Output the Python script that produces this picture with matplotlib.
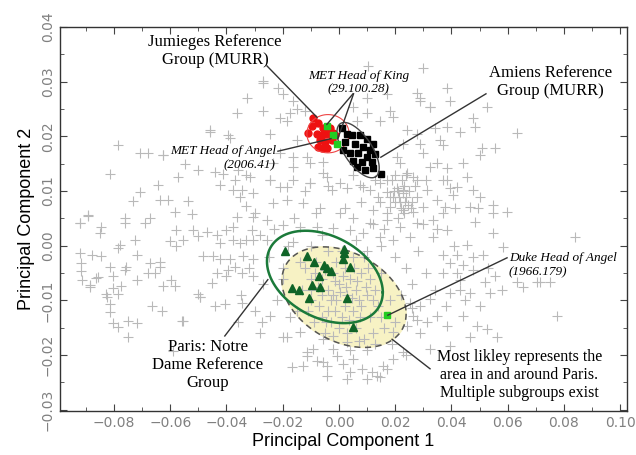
import numpy as np
import matplotlib
matplotlib.use("Agg")
import matplotlib.pyplot as plt
from matplotlib.ticker import MultipleLocator

# --- datos (PC1, PC2) ---

# muestras de referencia no asignadas (cruces grises)
otras = [
    (-0.0786, 0.0184), (-0.0679, 0.0170), (-0.0625, 0.0166), (-0.0815, 0.0132), (-0.0459, 0.0208),
    (-0.0394, 0.0202), (-0.0548, 0.0150), (-0.0501, 0.0138), (-0.0572, 0.0126), (-0.0441, 0.0135),
    (-0.0412, 0.0132), (-0.0643, 0.0111), (-0.0708, 0.0099), (-0.0732, 0.0081), (-0.0637, 0.0084),
    (-0.0608, 0.0084), (-0.0536, 0.0081), (-0.0584, 0.0062), (-0.0524, 0.0059), (-0.0673, 0.0050),
    (-0.0691, 0.0041), (-0.0762, 0.0050), (-0.0762, 0.0041), (-0.0892, 0.0056), (-0.0920, 0.0041),
    (-0.0845, 0.0035), (-0.0851, 0.0023), (-0.0726, 0.0011), (-0.0780, 0.0002), (-0.0786, -0.0004),
    (-0.0880, -0.0016), (-0.0845, -0.0019), (-0.0720, -0.0016), (-0.0916, -0.0032), (-0.0916, -0.0047),
    (-0.0815, -0.0038), (-0.0756, -0.0038), (-0.0762, -0.0044), (-0.0673, -0.0032), (-0.0637, -0.0029),
    (-0.0637, -0.0038), (-0.0655, -0.0050), (-0.0679, -0.0050), (-0.0863, -0.0059), (-0.0886, -0.0071),
    (-0.0803, -0.0056), (-0.0803, -0.0077), (-0.0774, -0.0074), (-0.0720, -0.0062), (-0.0596, -0.0062),
    (-0.0584, -0.0074), (-0.0625, -0.0074), (-0.0827, -0.0089), (-0.0786, -0.0089), (-0.0501, -0.0089),
    (-0.0578, -0.0001), (-0.0602, 0.0008), (-0.0554, 0.0011), (-0.0501, 0.0017), (-0.0471, 0.0026),
    (-0.0435, 0.0020), (-0.0424, 0.0005), (-0.0400, 0.0029), (-0.0376, 0.0035), (-0.0578, 0.0029),
    (-0.0519, 0.0029), (-0.0483, -0.0019), (-0.0447, -0.0019), (-0.0424, -0.0025), (-0.0388, -0.0025),
    (-0.0370, -0.0038), (-0.0341, -0.0019), (-0.0346, -0.0050), (-0.0305, -0.0025), (-0.0394, -0.0044),
    (-0.0435, -0.0050), (-0.0453, -0.0068), (-0.0400, -0.0056), (-0.0305, -0.0056), (-0.0352, 0.0090),
    (-0.0329, 0.0072), (-0.0305, 0.0053), (-0.0364, 0.0053), (-0.0376, 0.0011), (-0.0352, 0.0005),
    (-0.0305, 0.0011), (-0.0311, 0.0029), (-0.0424, 0.0111), (-0.0376, 0.0102), (-0.0346, 0.0102),
    (-0.0305, 0.0096), (-0.0370, 0.0120), (-0.0358, 0.0138), (-0.0329, 0.0129),
    (-0.0826, -0.0093), (-0.0815, -0.0107), (-0.0815, -0.0122), (-0.0804, -0.0142), (-0.0786, -0.0149),
    (-0.0751, -0.0138), (-0.0719, -0.0142), (-0.0751, -0.0166), (-0.0665, -0.0111), (-0.0630, -0.0120),
    (-0.0559, -0.0138), (-0.0495, -0.0093), (-0.0591, -0.0193), (-0.0922, -0.0013), (-0.0915, -0.0062),
    (-0.0886, -0.0075), (-0.0858, -0.0058), (-0.0922, 0.0042), (-0.0893, 0.0055), (-0.0708, 0.0169),
    (-0.0626, 0.0166),
    (-0.0270, 0.0302), (-0.0217, 0.0289), (-0.0199, 0.0278), (-0.0164, 0.0265), (-0.0149, 0.0251),
    (-0.0121, 0.0247), (-0.0174, 0.0242), (-0.0210, 0.0233), (-0.0270, 0.0247), (0.0103, 0.0329),
    (0.0299, 0.0326), (0.0100, 0.0271), (0.0171, 0.0278), (0.0050, 0.0253), (0.0100, 0.0242),
    (0.0064, 0.0229), (0.0146, 0.0229), (0.0192, 0.0235), (0.0278, 0.0280), (0.0288, 0.0271),
    (0.0324, 0.0253), (0.0342, 0.0216), (0.0242, 0.0211), (0.0384, 0.0289),
    (-0.0327, 0.0271), (-0.0270, 0.0298), (-0.0363, 0.0242), (-0.0459, 0.0211), (-0.0388, 0.0198),
    (-0.0246, 0.0205), (-0.0185, 0.0229), (-0.0149, 0.0193), (-0.0210, 0.0169), (-0.0114, 0.0162),
    (-0.0164, 0.0144), (-0.0057, 0.0133), (-0.0103, 0.0115), (-0.0185, 0.0107), (-0.0246, 0.0120),
    (-0.0317, 0.0126), (0.0004, 0.0115), (0.0085, 0.0107), (0.0171, 0.0120), (0.0206, 0.0162),
    (0.0228, 0.0187), (0.0278, 0.0205), (0.0299, 0.0169), (0.0324, 0.0144), (0.0263, 0.0126),
    (0.0228, 0.0102), (0.0359, 0.0193), (0.0395, 0.0265), (0.0181, 0.0247), (0.0288, 0.0265),
    (0.0324, 0.0253),
    (0.0384, 0.0217), (0.0431, 0.0208), (0.0477, 0.0233), (0.0484, 0.0217), (0.0527, 0.0253),
    (0.0633, 0.0206), (0.0370, 0.0184), (0.0509, 0.0178), (0.0555, 0.0178), (0.0502, 0.0166),
    (0.0441, 0.0151), (0.0384, 0.0142), (0.0456, 0.0126), (0.0370, 0.0120), (0.0395, 0.0106),
    (0.0420, 0.0107), (0.0477, 0.0102), (0.0502, 0.0089), (0.0406, 0.0093), (0.0377, 0.0071),
    (0.0413, 0.0069), (0.0466, 0.0071), (0.0495, 0.0069), (0.0548, 0.0075), (0.0598, 0.0062),
    (0.0548, 0.0060), (0.0484, 0.0044), (0.0548, 0.0024), (0.0456, 0.0002), (0.0840, 0.0016),
    (0.0584, -0.0002), (0.0370, -0.0016), (0.0420, -0.0016), (0.0477, -0.0020), (0.0512, -0.0016),
    (0.0395, -0.0031), (0.0441, -0.0035), (0.0370, -0.0049), (0.0420, -0.0049), (0.0477, -0.0044),
    (0.0520, -0.0066), (0.0555, -0.0056), (0.0633, -0.0066), (0.0705, -0.0067), (0.0751, -0.0066),
    (0.0431, -0.0080), (0.0466, -0.0086), (0.0537, -0.0086),
    (-0.0246, 0.0120), (-0.0210, 0.0107), (-0.0164, 0.0120), (-0.0103, 0.0115), (-0.0043, 0.0126),
    (-0.0025, 0.0102), (0.0028, 0.0106), (0.0075, 0.0111), (0.0110, 0.0102), (0.0146, 0.0115),
    (0.0171, 0.0098), (0.0206, 0.0106), (0.0228, 0.0096), (0.0192, 0.0089), (0.0217, 0.0080),
    (0.0246, 0.0075), (0.0228, 0.0066), (0.0263, 0.0062), (0.0181, 0.0071), (0.0146, 0.0080),
    (0.0121, 0.0066), (0.0278, 0.0089), (0.0313, 0.0102), (0.0299, 0.0071), (0.0349, 0.0084),
    (0.0370, 0.0060), (0.0335, 0.0047), (0.0278, 0.0042), (0.0217, 0.0035), (0.0171, 0.0047),
    (0.0110, 0.0042), (0.0050, 0.0051), (0.0004, 0.0060), (-0.0068, 0.0069), (-0.0128, 0.0078),
    (-0.0185, 0.0084), (-0.0235, 0.0078), (-0.0256, 0.0047), (-0.0199, 0.0038), (-0.0139, 0.0035),
    (-0.0078, 0.0035), (-0.0021, 0.0033), (0.0039, 0.0029), (0.0085, 0.0024), (0.0146, 0.0016),
    (0.0192, 0.0011), (0.0253, 0.0016), (0.0335, 0.0016), (0.0384, 0.0029), (-0.0256, 0.0011),
    (-0.0164, 0.0007), (-0.0057, 0.0153), (-0.0103, 0.0151), (-0.0235, 0.0151), (-0.0164, 0.0162),
    (0.0217, 0.0151), (0.0242, 0.0133), (0.0278, 0.0120), (0.0349, 0.0151), (0.0384, 0.0120),
    (0.0288, 0.0187),
    (-0.0300, 0.0060), (-0.0280, 0.0020), (-0.0250, -0.0020), (-0.0320, -0.0040), (-0.0270, -0.0070),
    (-0.0220, -0.0100), (-0.0300, -0.0120), (-0.0350, -0.0090), (-0.0200, -0.0040), (-0.0180, 0.0000),
    (-0.0230, 0.0030), (-0.0330, 0.0010), (-0.0360, -0.0140), (-0.0280, -0.0160),
    (-0.0495, -0.0093), (-0.0441, -0.0111), (-0.0406, -0.0107), (-0.0345, -0.0104), (-0.0555, -0.0138),
    (-0.0274, -0.0140), (-0.0246, -0.0129), (-0.0174, -0.0131), (-0.0199, -0.0166), (-0.0139, -0.0158),
    (-0.0114, -0.0202), (-0.0078, -0.0211), (-0.0128, -0.0220), (-0.0167, -0.0222), (-0.0043, -0.0220),
    (-0.0007, -0.0202), (0.0014, -0.0216), (0.0050, -0.0207), (0.0082, -0.0225), (0.0117, -0.0231),
    (0.0146, -0.0240), (0.0100, -0.0244), (0.0171, -0.0225), (-0.0043, -0.0238), (0.0028, -0.0244),
    (-0.0093, -0.0189), (-0.0021, -0.0189), (0.0028, -0.0176), (-0.0057, -0.0171), (0.0192, -0.0158),
    (0.0242, -0.0147), (0.0263, -0.0129), (0.0288, -0.0111), (0.0313, -0.0140), (0.0253, -0.0104),
    (0.0260, -0.0113), (0.0324, -0.0098), (0.0278, -0.0135), (0.0349, -0.0129), (0.0384, -0.0147),
    (0.0441, -0.0129), (0.0491, -0.0147), (0.0527, -0.0153), (0.0562, -0.0166), (0.0466, -0.0166),
    (0.0395, -0.0086), (0.0431, -0.0062), (0.0776, -0.0129), (0.0655, -0.0075), (0.0715, -0.0067),
    (-0.0185, -0.0167), (-0.0114, -0.0195), (-0.0057, -0.0213), (0.0039, -0.0231), (0.0135, -0.0238),
    (0.0157, -0.0220), (0.0192, -0.0207), (0.0228, -0.0195), (0.0324, -0.0189), (0.0395, -0.0184),
    (-0.0120, -0.0040), (-0.0100, -0.0060), (-0.0080, -0.0030), (-0.0060, -0.0060), (-0.0040, -0.0080),
    (-0.0020, -0.0050), (0.0000, -0.0070), (0.0020, -0.0040), (0.0040, -0.0060), (0.0060, -0.0080),
    (0.0080, -0.0050), (0.0100, -0.0090), (-0.0100, -0.0100), (-0.0070, -0.0110), (-0.0040, -0.0120),
    (-0.0010, -0.0100), (0.0020, -0.0110), (0.0050, -0.0120), (0.0080, -0.0110), (0.0110, -0.0130),
    (0.0140, -0.0110), (0.0160, -0.0150), (-0.0030, -0.0140), (0.0000, -0.0150), (0.0030, -0.0160),
    (0.0060, -0.0150), (0.0090, -0.0170), (0.0120, -0.0160), (-0.0130, -0.0080), (-0.0150, -0.0120),
    (-0.0010, -0.0030), (0.0050, -0.0020), (0.0030, -0.0090), (-0.0020, -0.0090), (0.0070, -0.0100),
    (-0.0060, -0.0090), (0.0010, -0.0130), (0.0130, -0.0080), (0.0180, -0.0100), (0.0150, -0.0050),
    (-0.0090, -0.0140), (0.0040, -0.0190), (0.0100, -0.0190), (-0.0050, -0.0160), (0.0010, -0.0010),
    (-0.0040, -0.0010), (0.0090, -0.0020), (0.0110, -0.0060), (0.0200, -0.0140), (0.0190, -0.0180),
    (-0.0085, -0.0050), (-0.0050, -0.0045), (-0.0015, -0.0065), (0.0025, -0.0075), (0.0065, -0.0065),
    (-0.0075, -0.0075), (-0.0030, -0.0100), (0.0005, -0.0085), (0.0045, -0.0095), (0.0095, -0.0075),
    (-0.0110, -0.0120), (-0.0060, -0.0130), (-0.0015, -0.0120), (0.0035, -0.0135), (0.0075, -0.0130),
    (0.0120, -0.0100), (0.0150, -0.0130), (-0.0020, -0.0165), (0.0070, -0.0175), (0.0130, -0.0180),
    (-0.0100, -0.0080), (0.0015, -0.0055), (0.0105, -0.0040), (-0.0045, -0.0140), (0.0055, -0.0040),
    (0.0190, 0.0120), (0.0210, 0.0100), (0.0230, 0.0110), (0.0200, 0.0080), (0.0220, 0.0070),
    (0.0240, 0.0090), (0.0260, 0.0080), (0.0250, 0.0100), (0.0180, 0.0090), (0.0230, 0.0060),
    (0.0210, 0.0050), (0.0270, 0.0110), (0.0200, 0.0130), (0.0240, 0.0130), (0.0170, 0.0060),
    (0.0215, 0.0090), (0.0235, 0.0080), (0.0195, 0.0100), (0.0255, 0.0070), (0.0225, 0.0120),
    (-0.0100, 0.0000), (-0.0060, 0.0020), (0.0060, 0.0010), (0.0100, -0.0010), (0.0150, 0.0000),
    (0.0200, -0.0020), (0.0240, -0.0040), (0.0280, -0.0010), (0.0310, -0.0050), (0.0340, -0.0080),
    (0.0260, -0.0070), (0.0220, -0.0090), (0.0300, 0.0040), (0.0120, 0.0040), (0.0160, 0.0030),
    (-0.0140, -0.0030), (-0.0200, -0.0060), (-0.0160, 0.0050), (-0.0080, 0.0060), (0.0020, 0.0070),
    (0.0080, 0.0080), (0.0140, 0.0090), (-0.0120, 0.0100), (-0.0040, 0.0110), (0.0050, 0.0130),
    (0.0130, 0.0120), (0.0310, 0.0120), (0.0350, 0.0030), (0.0410, 0.0000), (0.0380, -0.0110),
    (0.0290, -0.0160), (0.0240, -0.0200), (0.0450, -0.0100), (0.0500, -0.0110), (0.0530, -0.0040),
    (0.0580, -0.0080),
]

# grupo de referencia Jumieges (MURR)
jumieges_x = [-0.0093, -0.0075, -0.0096, -0.0110, -0.0078, -0.0060, -0.0043, -0.0068, -0.0050,
              -0.0025, -0.0060, -0.0075, -0.0043, -0.0032, -0.0021, -0.0014, -0.0057]
jumieges_y = [0.0233, 0.0225, 0.0220, 0.0207, 0.0205, 0.0202, 0.0205, 0.0193, 0.0189,
              0.0193, 0.0178, 0.0180, 0.0178, 0.0215, 0.0207, 0.0202, 0.0215]

# grupo de referencia Amiens (MURR)
amiens_x = [0.0011, 0.0028, 0.0046, 0.0075, 0.0100, 0.0121, 0.0021, 0.0057, 0.0085, 0.0110, 0.0128,
            0.0014, 0.0039, 0.0068, 0.0100, 0.0050, 0.0082, 0.0117, 0.0064, 0.0093, 0.0121, 0.0149]
amiens_y = [0.0216, 0.0205, 0.0202, 0.0202, 0.0196, 0.0187, 0.0189, 0.0187, 0.0180, 0.0175, 0.0167,
            0.0175, 0.0169, 0.0169, 0.0162, 0.0156, 0.0153, 0.0153, 0.0145, 0.0138, 0.0142, 0.0131]

# grupo de referencia Paris: Notre Dame
paris_x = [-0.0192, -0.0114, -0.0089, 0.0018, 0.0014, 0.0039, -0.0053, -0.0043, -0.0028,
           -0.0071, -0.0096, -0.0068, -0.0167, -0.0142, -0.0107, 0.0028, 0.0050, 0.0018]
paris_y = [-0.0009, -0.0018, -0.0029, -0.0013, -0.0024, -0.0038, -0.0035, -0.0040, -0.0047,
           -0.0055, -0.0071, -0.0075, -0.0078, -0.0080, -0.0096, -0.0096, -0.0149, -0.0005]

# cabezas analizadas (MET y Duke)
cabezas_x = [-0.0043, -0.0021, -0.0007, 0.0171]
cabezas_y = [0.0220, 0.0202, 0.0187, -0.0127]


def elipse(cx, cy, ax_x, ax_y, fase, n=200):
    t = np.linspace(0, 2 * np.pi, n)
    return cx + ax_x * np.cos(t), cy - ax_y * np.cos(t - fase)


fig = plt.figure(figsize=(6.36, 4.55), dpi=100)
ax = fig.add_axes([0.094, 0.097, 0.892, 0.844])

# zona de Paris (relleno amarillo)
ex, ey = elipse(0.0018, -0.0094, 0.0221, 0.0092, np.arccos(0.33))
ax.fill(ex, ey, color='#f7f2c4', zorder=1)

pts = np.array(otras)
ax.plot(pts[:, 0], pts[:, 1], '+', color='#b9b9b9', markersize=7, markeredgewidth=0.8, zorder=2)

ax.plot(ex, ey, '--', color='#555555', lw=1.1, dashes=(4, 3), zorder=3)

ax.plot(jumieges_x, jumieges_y, 'o', color='#ee1111', markersize=5, zorder=4)
jx, jy = elipse(-0.0039, 0.0205, 0.0075, 0.0035, np.pi / 2)
ax.plot(jx, jy, color='#ee4444', lw=0.8, zorder=4)

ax.plot(amiens_x, amiens_y, 's', color='black', markersize=4, zorder=5)
t = np.linspace(0, 2 * np.pi, 200)
ax.plot(0.0068 + 0.00627 * np.cos(t) + 0.00416 * np.sin(t),
        0.0175 - 0.00486 * np.cos(t) + 0.0014 * np.sin(t), color='#444444', lw=1.0, zorder=5)

ax.plot(paris_x, paris_y, '^', color='#0f6427', markersize=6, zorder=5)
gx, gy = elipse(-0.0050, -0.0057, 0.0206, 0.00845, np.arccos(0.333))
ax.plot(gx, gy, color='#1b7a3a', lw=1.8, zorder=5)

ax.plot(cabezas_x, cabezas_y, 's', color='#22cc22', markersize=4, zorder=6)

# lineas de anotacion
lineas = [
    ((-0.0256, 0.0329), (-0.0078, 0.0235)),
    ((0.0050, 0.0278), (-0.0043, 0.0222)),
    ((0.0052, 0.0278), (-0.0004, 0.0196)),
    ((-0.0217, 0.0173), (-0.0028, 0.0196)),
    ((0.0523, 0.0278), (0.0149, 0.0162)),
    ((-0.0406, -0.0165), (-0.0253, -0.0062)),
    ((0.0598, -0.0022), (0.0174, -0.0127)),
    ((0.0324, -0.0225), (0.0189, -0.0171)),
]
for (x0, y0), (x1, y1) in lineas:
    ax.plot([x0, x1], [y0, y1], color='#333333', lw=1.0, zorder=7)

serif = 'Liberation Serif'
ax.text(-0.0441, 0.0356, 'Jumieges Reference\nGroup (MURR)', family=serif, fontsize=12,
        ha='center', va='center', linespacing=1.15, zorder=8)
ax.text(0.0751, 0.0300, 'Amiens Reference\nGroup (MURR)', family=serif, fontsize=12,
        ha='center', va='center', linespacing=1.15, zorder=8)
ax.text(0.0071, 0.0298, 'MET Head of King\n(29.100.28)', family=serif, style='italic',
        fontsize=9.5, ha='center', va='center', linespacing=1.2, zorder=8)
ax.text(-0.0225, 0.0160, 'MET Head of Angel\n(2006.41)', family=serif, style='italic',
        fontsize=9.5, ha='right', va='center', multialignment='right', linespacing=1.2, zorder=8)
ax.text(-0.0466, -0.0218, 'Paris: Notre\nDame Reference\nGroup', family=serif, fontsize=12,
        ha='center', va='center', linespacing=1.15, zorder=8)
ax.text(0.0605, -0.0035, 'Duke Head of Angel\n(1966.179)', family=serif, style='italic',
        fontsize=9.5, ha='left', va='center', linespacing=1.2, zorder=8)
ax.text(0.0641, -0.0236, 'Most likley represents the\narea in and around Paris.\nMultiple subgroups exist',
        family=serif, fontsize=11.5, ha='center', va='center', linespacing=1.15, zorder=8)

ax.set_xlim(-0.0993, 0.1025)
ax.set_ylim(-0.0302, 0.04005)
ax.xaxis.set_major_locator(MultipleLocator(0.02))
ax.xaxis.set_minor_locator(MultipleLocator(0.01))
ax.yaxis.set_major_locator(MultipleLocator(0.01))
ax.yaxis.set_minor_locator(MultipleLocator(0.005))
ax.xaxis.set_major_formatter(plt.FuncFormatter(lambda v, p: f'{v:.2f}'.replace('-', '\u2212')))
ax.yaxis.set_major_formatter(plt.FuncFormatter(lambda v, p: f'{v:.2f}'.replace('-', '\u2212')))
ax.tick_params(which='both', direction='in', top=True, right=True, colors='#444444',
               labelcolor='#808080', labelsize=10)
ax.tick_params(which='major', length=5)
ax.tick_params(which='minor', length=3)
plt.setp(ax.get_yticklabels(), rotation=90, va='center')
for s in ax.spines.values():
    s.set_color('#333333')
    s.set_linewidth(1.0)

ax.set_xlabel('Principal Component 1', fontsize=13, family='Liberation Sans', labelpad=2)
ax.set_ylabel('Principal Component 2', fontsize=13, family='Liberation Sans', labelpad=4)

fig.savefig('out.png', dpi=100)
